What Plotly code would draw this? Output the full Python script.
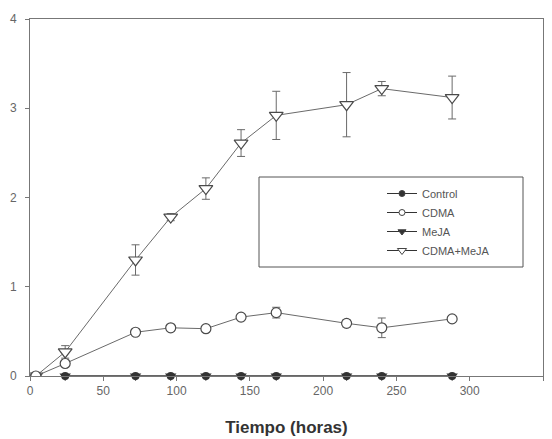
import plotly.graph_objects as go

time_h = [4, 24, 72, 96, 120, 144, 168, 216, 240, 288]
control = [0, 0, 0, 0, 0, 0, 0, 0, 0, 0]
cdma = [0, 0.14, 0.49, 0.54, 0.53, 0.66, 0.71, 0.59, 0.54, 0.64]
cdma_err = [0, 0.02, 0.02, 0.03, 0.03, 0.03, 0.06, 0.04, 0.11, 0.02]
meja = [0, 0, 0, 0, 0, 0, 0, 0, 0, 0]
cdma_meja = [0, 0.27, 1.30, 1.78, 2.10, 2.61, 2.92, 3.04, 3.22, 3.12]
cdma_meja_err = [0, 0.07, 0.17, 0.04, 0.12, 0.15, 0.27, 0.36, 0.08, 0.24]

x_ticks = [0, 50, 100, 150, 200, 250, 300, 350]
y_ticks = [0, 1, 2, 3, 4]

LINE = "#6a6a6a"
DARK = "#333333"
FONT = "Liberation Sans"

fig = go.Figure()

fig.add_trace(go.Scatter(
    x=time_h, y=cdma_meja, name="CDMA+MeJA", mode="lines+markers",
    line=dict(color=LINE, width=1),
    marker=dict(symbol="triangle-down", size=12, color="white", line=dict(color="#4a4a4a", width=1.2)),
    error_y=dict(type="data", array=cdma_meja_err, color=LINE, thickness=1, width=4),
    showlegend=False,
))
fig.add_trace(go.Scatter(
    x=time_h, y=cdma, name="CDMA", mode="lines+markers",
    line=dict(color=LINE, width=1),
    marker=dict(symbol="circle", size=10, color="white", line=dict(color="#4a4a4a", width=1.2)),
    error_y=dict(type="data", array=cdma_err, color=LINE, thickness=1, width=4),
    showlegend=False,
))
fig.add_trace(go.Scatter(
    x=time_h[1:], y=meja[1:], name="MeJA", mode="lines+markers",
    line=dict(color=DARK, width=1),
    marker=dict(symbol="triangle-down", size=10, color=DARK),
    showlegend=False, cliponaxis=False,
))
fig.add_trace(go.Scatter(
    x=time_h[1:], y=control[1:], name="Control", mode="lines+markers",
    line=dict(color=DARK, width=1),
    marker=dict(symbol="circle", size=8, color=DARK),
    showlegend=False, cliponaxis=False,
))

# legend entries (same styles, no error bars)
leg_specs = [
    ("Control", "circle", 6, DARK),
    ("CDMA", "circle", 6, "white"),
    ("MeJA", "triangle-down", 7, DARK),
    ("CDMA+MeJA", "triangle-down", 8, "white"),
]
for name, sym, sz, fill in leg_specs:
    fig.add_trace(go.Scatter(
        x=[None], y=[None], name=name, mode="lines+markers",
        line=dict(color=DARK, width=1),
        marker=dict(symbol=sym, size=sz, color=fill, line=dict(color="#444", width=1)),
    ))

# page body has an 8px margin: plot area spans page x 30..543, y 19..376
fig.add_shape(type="rect", xref="paper", yref="paper",
              x0=(259 - 30) / 513, x1=(523 - 30) / 513,
              y0=(376 - 267) / 357, y1=(376 - 177) / 357,
              line=dict(color="#555", width=1), fillcolor="rgba(0,0,0,0)")

fig.update_layout(
    width=544, height=431,
    margin=dict(l=22, r=9, t=11, b=63, autoexpand=False),
    paper_bgcolor="white", plot_bgcolor="white",
    font=dict(family=FONT, size=12, color="#555"),
    legend=dict(
        x=(382 - 30) / 513, y=(376 - 179) / 357, xanchor="left", yanchor="top",
        bgcolor="rgba(0,0,0,0)", borderwidth=0,
        font=dict(family=FONT, size=11, color="#555"),
        tracegroupgap=0, itemwidth=30,
    ),
    xaxis=dict(
        range=[0, 350], tickvals=x_ticks, showgrid=False, zeroline=False,
        showline=True, linecolor="#777", linewidth=1, mirror=True,
        ticks="outside", ticklen=4, tickcolor="#777", automargin=False,
        tickfont=dict(family=FONT, size=12, color="#666"),
        title=dict(text="<b>Tiempo (horas)</b>", font=dict(family=FONT, size=17, color="#333"), standoff=23),
    ),
    yaxis=dict(
        range=[0, 4], tickvals=y_ticks, showgrid=False, zeroline=False,
        showline=True, linecolor="#777", linewidth=1, mirror=True,
        ticks="outside", ticklen=4, tickcolor="#777", automargin=False,
        ticklabelstandoff=6,
        tickfont=dict(family=FONT, size=12, color="#666"),
    ),
)

fig.write_html("out.html")
